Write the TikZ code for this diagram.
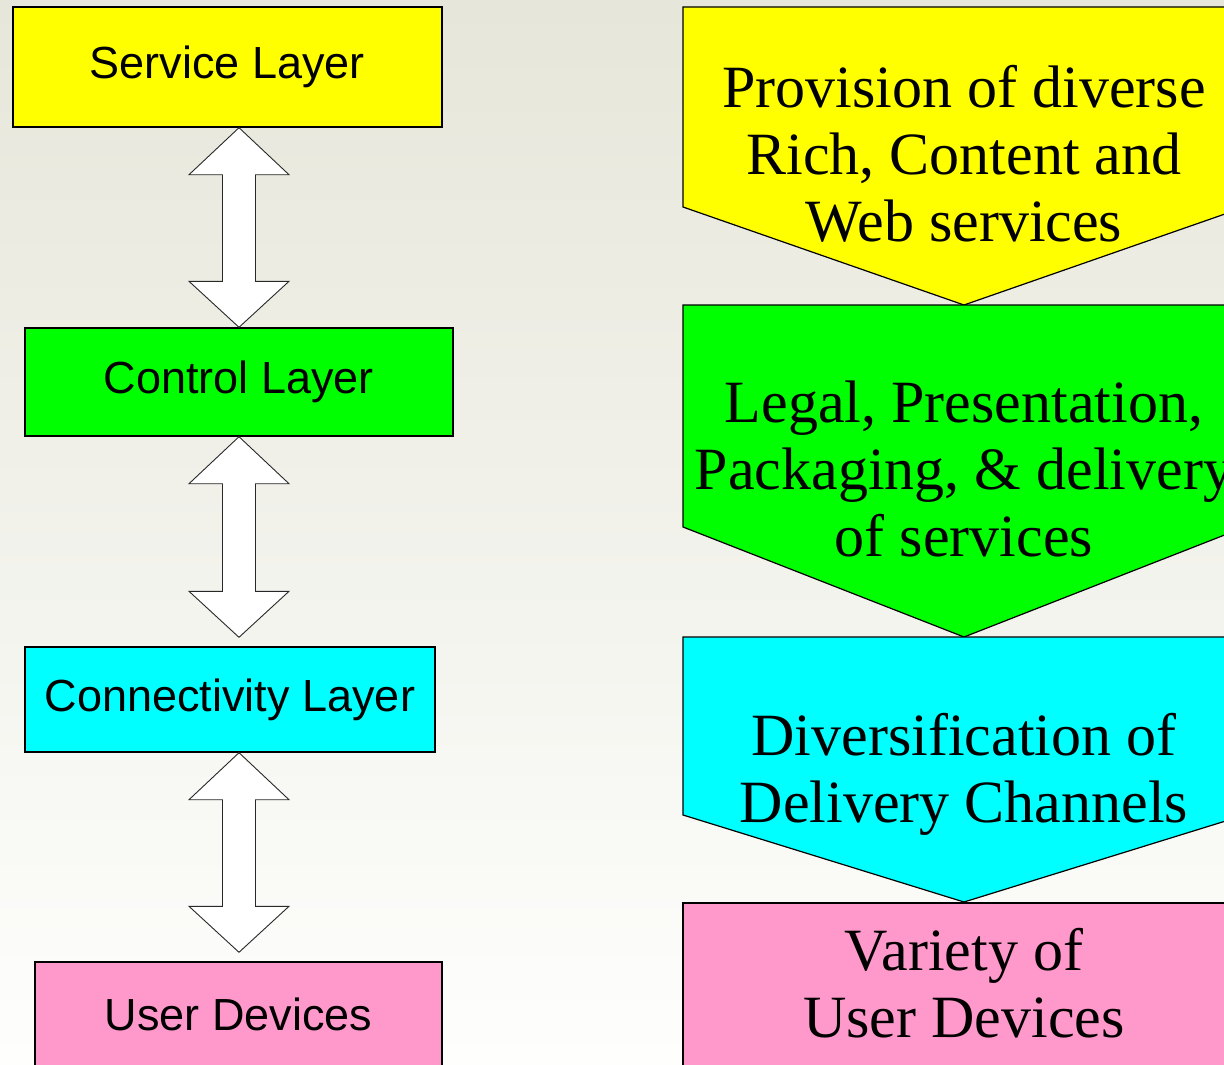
\documentclass[tikz,border=0pt]{standalone}
\usepackage{fontspec}
\setmainfont{Liberation Serif}
\newfontfamily\arialfont{Liberation Sans}
\usetikzlibrary{calc}

\definecolor{bgtop}{RGB}{230,230,218}
\definecolor{bgbottom}{RGB}{254,254,253}
\definecolor{layyellow}{RGB}{255,255,0}
\definecolor{laygreen}{RGB}{0,255,0}
\definecolor{laycyan}{RGB}{0,255,255}
\definecolor{laypink}{RGB}{255,153,204}
\definecolor{edgegray}{RGB}{40,40,40}

\tikzset{
  layerbox/.style={draw=black, line width=1.4pt, inner sep=0pt,
    font=\arialfont\fontsize{45}{50}\selectfont},
  chevron/.style={draw=black, line width=1.2pt},
  chevtext/.style={align=center, inner sep=0pt,
    font=\fontsize{60}{67}\selectfont},
  blockarrow/.style={draw=edgegray, fill=white, line width=0.9pt, line join=miter}
}

% double-headed block arrow between two tip coordinates
\newcommand\layerlink[2]{%
  \draw[blockarrow] (#1) -- ++(50,47) -- ++(-33.5,0)
    -- ($(#2)+(16.5,-46)$) -- ($(#2)+(50,-46)$) -- (#2)
    -- ($(#2)+(-50,-46)$) -- ($(#2)+(-16.5,-46)$)
    -- ($(#1)+(-16.5,47)$) -- ($(#1)+(-50,47)$) -- cycle;}

\begin{document}
\begin{tikzpicture}[x=1pt, y=-1pt]
  \useasboundingbox (0,0) rectangle (1224,1065);
  \shade[top color=bgtop, bottom color=bgbottom] (0,0) rectangle (1224,1065);
  \clip (0,0) rectangle (1224,1065);

  % left column: the layers
  \node[layerbox, fill=layyellow, minimum width=429pt, minimum height=120pt]
    (sl) at (227.5,67) {Service Layer};
  \node[layerbox, fill=laygreen, minimum width=428pt, minimum height=108pt]
    (cl) at (239,382) {Control Layer};
  \node[layerbox, fill=laycyan, minimum width=410pt, minimum height=105pt]
    (cn) at (230,699.5) {Connectivity Layer};
  \node[layerbox, fill=laypink, minimum width=407pt, minimum height=104pt]
    (ud) at (238.5,1014) {User Devices};

  \coordinate (ax) at (239,0);
  \coordinate (a1t) at (sl.south -| ax);
  \coordinate (a1b) at (cl.north -| ax);
  \coordinate (a2t) at (cl.south -| ax);
  \coordinate (a2b) at ($(cn.north -| ax)+(0,-9)$);
  \coordinate (a3t) at (cn.south -| ax);
  \coordinate (a3b) at ($(ud.north -| ax)+(0,-9)$);
  \layerlink{a1t}{a1b}
  \layerlink{a2t}{a2b}
  \layerlink{a3t}{a3b}

  % right column: the chevrons
  \draw[chevron, fill=layyellow] (683,7) -- (1245,7) -- (1245,207) -- (964,305) -- (683,207) -- cycle;
  \draw[chevron, fill=laygreen] (683,305) -- (1245,305) -- (1245,527) -- (964,637) -- (683,527) -- cycle;
  \draw[chevron, fill=laycyan] (683,637) -- (1245,637) -- (1245,815) -- (964,902) -- (683,815) -- cycle;
  \draw[chevron, fill=laypink] (683,903) -- (1245,903) -- (1245,1090) -- (683,1090) -- cycle;

  \node[chevtext] (t1) at (964,154) {Provision of diverse\\Rich, Content and\\Web services};
  \node[chevtext] (t2) at (964,469) {Legal, Presentation,\\Packaging, \& delivery\\of services};
  \node[chevtext] (t3) at (964,774) {Diversification of\\Delivery Channels};
  \node[chevtext] (t4) at (964,983) {Variety of\\User Devices};
\end{tikzpicture}
\end{document}
